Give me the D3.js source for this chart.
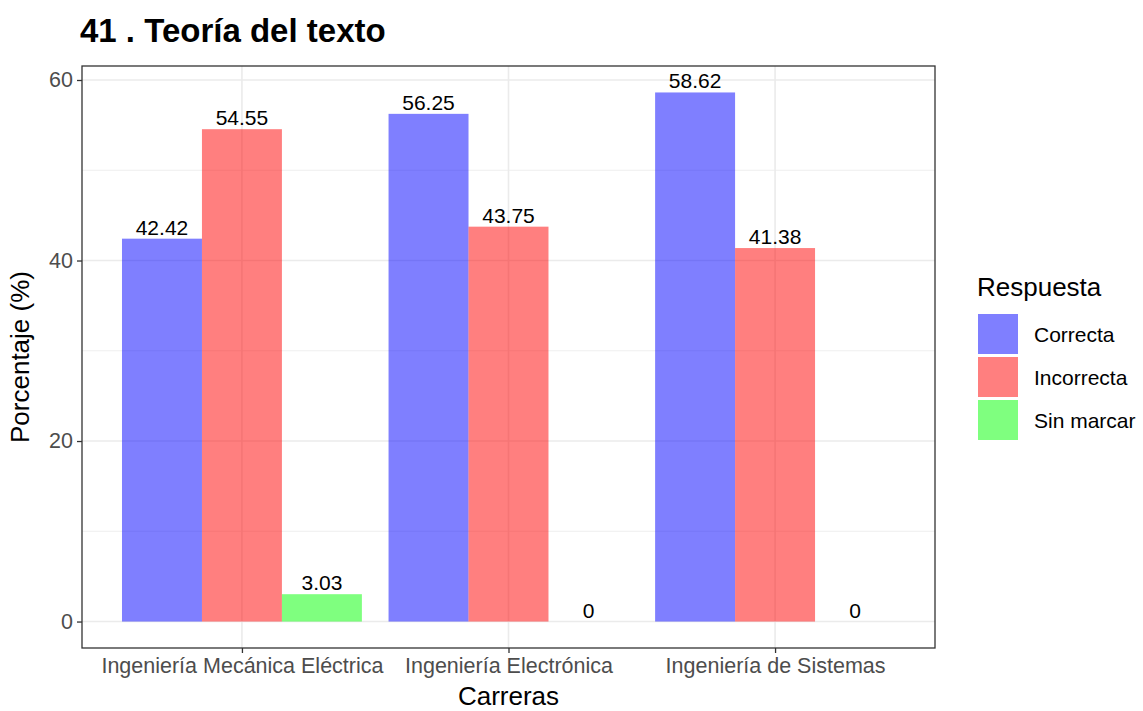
<!DOCTYPE html>
<meta charset="utf-8">
<style>
body { margin: 0; background: #fff; }
text { font-family: "Liberation Sans", Arial, sans-serif; }
</style>
<svg width="1143" height="711"></svg>
<script src="https://d3js.org/d3.v7.min.js"></script>
<script>

var carreras = ["Ingeniería Mecánica Eléctrica", "Ingeniería Electrónica", "Ingeniería de Sistemas"];
var respuestas = ["Correcta", "Incorrecta", "Sin marcar"];
var correcta = [42.42, 56.25, 58.62];
var incorrecta = [54.55, 43.75, 41.38];
var sinMarcar = [3.03, 0, 0];
var colores = ["#0000ff", "#ff0000", "#00ff00"];
var yTicks = [0, 20, 40, 60];
var yMinor = [10, 30, 50];

var series = [correcta, incorrecta, sinMarcar];
var data = [];
carreras.forEach(function(c, i) {
  respuestas.forEach(function(r, j) {
    data.push({carrera: c, resp: r, value: series[j][i]});
  });
});

var svg = d3.select("svg"),
    pLeft = 82, pRight = 935, pTop = 66, pBottom = 648;

var ymax = d3.max(data, d => d.value);
var pad = ymax * 0.05;
var y = d3.scaleLinear().domain([-pad, ymax + pad]).range([pBottom, pTop]);

// discrete scale, 0.6 expansion on each side like ggplot
var step = (pRight - pLeft) / (carreras.length - 1 + 1.2);
var x = d3.scalePoint().domain(carreras).range([pLeft + 0.6 * step, pRight - 0.6 * step]);
var xs = d3.scaleBand().domain(respuestas).range([-step * 0.45, step * 0.45]);

var color = d3.scaleOrdinal().domain(respuestas).range(colores);

// title
svg.append("text").attr("x", 80).attr("y", 42)
  .style("font-size", "33px").style("font-weight", "bold").attr("fill", "#000")
  .text("41 . Teoría del texto");

// grid
var grid = svg.append("g");
grid.selectAll(".minor").data(yMinor).enter().append("line")
  .attr("x1", pLeft).attr("x2", pRight)
  .attr("y1", d => y(d)).attr("y2", d => y(d))
  .attr("stroke", "#ebebeb").attr("stroke-width", 0.8);
grid.selectAll(".major").data(yTicks).enter().append("line")
  .attr("x1", pLeft).attr("x2", pRight)
  .attr("y1", d => y(d)).attr("y2", d => y(d))
  .attr("stroke", "#ebebeb").attr("stroke-width", 1.6);
grid.selectAll(".vx").data(carreras).enter().append("line")
  .attr("y1", pTop).attr("y2", pBottom)
  .attr("x1", d => x(d)).attr("x2", d => x(d))
  .attr("stroke", "#ebebeb").attr("stroke-width", 1.6);

// bars
svg.append("g").selectAll("rect").data(data).enter().append("rect")
  .attr("x", d => x(d.carrera) + xs(d.resp))
  .attr("width", xs.bandwidth())
  .attr("y", d => y(d.value))
  .attr("height", d => y(0) - y(d.value))
  .attr("fill", d => color(d.resp))
  .attr("fill-opacity", 0.5);

// value labels
svg.append("g").selectAll("text").data(data).enter().append("text")
  .attr("x", d => x(d.carrera) + xs(d.resp) + xs.bandwidth() / 2)
  .attr("y", d => y(d.value) - 4)
  .attr("text-anchor", "middle")
  .style("font-size", "21px").attr("fill", "#000")
  .text(d => d.value);

// panel border
svg.append("rect").attr("x", pLeft).attr("y", pTop)
  .attr("width", pRight - pLeft).attr("height", pBottom - pTop)
  .attr("fill", "none").attr("stroke", "#333").attr("stroke-width", 1.3);

// axes
var yAxis = svg.append("g").attr("transform", "translate(" + pLeft + ",0)")
  .call(d3.axisLeft(y).tickValues(yTicks).tickSize(5).tickPadding(4));
var xAxis = svg.append("g").attr("transform", "translate(0," + pBottom + ")")
  .call(d3.axisBottom(x).tickSize(5).tickPadding(5));
[yAxis, xAxis].forEach(function(a) {
  a.select(".domain").remove();
  a.selectAll(".tick line").attr("stroke", "#333").attr("stroke-width", 1.3);
  a.selectAll(".tick text").attr("fill", "#4d4d4d").style("font-size", "21.5px")
    .style("font-family", "Liberation Sans, Arial, sans-serif");
});

// axis titles
svg.append("text").attr("x", (pLeft + pRight) / 2).attr("y", 705)
  .attr("text-anchor", "middle").style("font-size", "26px").text("Carreras");
svg.append("text").attr("transform", "translate(29," + ((pTop + pBottom) / 2) + ") rotate(-90)")
  .attr("text-anchor", "middle").style("font-size", "26px").text("Porcentaje (%)");

// legend
var lg = svg.append("g").attr("transform", "translate(977,0)");
lg.append("text").attr("x", 0).attr("y", 296).style("font-size", "26px").text("Respuesta");
var items = lg.selectAll(".item").data(respuestas).enter().append("g")
  .attr("transform", (d, i) => "translate(0," + (314 + i * 43) + ")");
items.append("rect").attr("x", 1).attr("width", 40).attr("height", 40)
  .attr("fill", d => color(d)).attr("fill-opacity", 0.5);
items.append("text").attr("x", 57).attr("y", 28).style("font-size", "21px").text(d => d);

</script>
